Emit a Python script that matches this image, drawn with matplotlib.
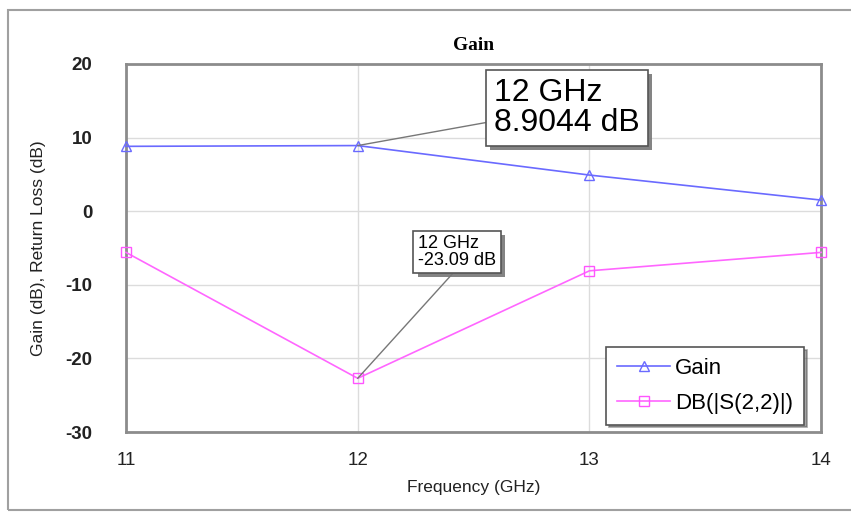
import numpy as np
import matplotlib
matplotlib.use('Agg')
import matplotlib.pyplot as plt
import matplotlib.patheffects as pe
from matplotlib.patches import Rectangle

plt.rcParams['font.family'] = ['Liberation Sans', 'DejaVu Sans']
plt.rcParams['axes.unicode_minus'] = False

# data
freq = [11, 12, 13, 14]
gain = [8.8, 8.9044, 4.9, 1.5]
s22 = [-5.6, -22.7, -8.1, -5.6]
xticks = [11, 12, 13, 14]
yticks = [-30, -20, -10, 0, 10, 20]

fig = plt.figure(figsize=(8.51, 5.15), dpi=100)
ax = fig.add_axes([0.148, 0.161, 0.817, 0.715])

# outer frame round the whole graph
fig.patches.append(Rectangle((8/851, 5/515), 850/851, 500/515, transform=fig.transFigure,
                             fill=False, edgecolor='#a0a0a0', lw=1.5))

ax.plot(freq, gain, color='#6a6aff', lw=1.2, marker='^', ms=7, mfc='none',
        mec='#6a6aff', label='Gain', clip_on=False, zorder=3)
ax.plot(freq, s22, color='#ff66ff', lw=1.2, marker='s', ms=7, mfc='none',
        mec='#ff55ff', label='DB(|S(2,2)|)', clip_on=False, zorder=3)

ax.set_xlim(11, 14)
ax.set_ylim(-30, 20)
ax.set_xticks(xticks)
ax.set_yticks(yticks)
ax.grid(True, color='#dcdcdc', lw=1)
ax.set_axisbelow(True)
ax.tick_params(length=0, labelsize=13.5, labelcolor='#222222')
ax.tick_params(axis='y', pad=24)
ax.tick_params(axis='x', pad=14)
for lab in ax.get_yticklabels():
    lab.set_fontweight('bold')
for s in ax.spines.values():
    s.set_color('#8c8c8c')
    s.set_linewidth(2)

ax.set_title('Gain', fontsize=14, fontweight='bold', family='Liberation Serif', pad=10)
ax.set_xlabel('Frequency (GHz)', fontsize=12.5, labelpad=8, color='#222222')
ax.set_ylabel('Gain (dB), Return Loss (dB)', fontsize=12.5, labelpad=14, color='#222222')

shadow = [pe.withSimplePatchShadow(offset=(3, -3), shadow_rgbFace='#777777', alpha=0.9)]

a1 = ax.annotate('12 GHz\n8.9044 dB', xy=(freq[1], gain[1]), xytext=(494, 407),
                 textcoords='figure pixels', fontsize=23, va='center', ha='left',
                 linespacing=1.0,
                 bbox=dict(boxstyle='square,pad=0.25', fc='white', ec='#555555', lw=1.2),
                 arrowprops=dict(arrowstyle='-', color='#777777', lw=1,
                                 shrinkA=0, shrinkB=0))
a1.get_bbox_patch().set_path_effects(shadow)

a2 = ax.annotate('12 GHz\n-23.09 dB', xy=(freq[1], s22[1]), xytext=(418, 263),
                 textcoords='figure pixels', fontsize=13, va='center', ha='left',
                 linespacing=0.95,
                 bbox=dict(boxstyle='square,pad=0.25', fc='white', ec='#555555', lw=1.2),
                 arrowprops=dict(arrowstyle='-', color='#777777', lw=1,
                                 shrinkA=0, shrinkB=0, relpos=(0.5, 0)))
a2.get_bbox_patch().set_path_effects(shadow)

leg = ax.legend(loc='lower right', bbox_to_anchor=(0.975, 0.02), fontsize=16,
                frameon=True, fancybox=False, shadow=True, handlelength=2.4,
                borderpad=0.5, labelspacing=0.6, handletextpad=0.2, borderaxespad=0)
leg.get_frame().set_edgecolor('#555555')
leg.get_frame().set_linewidth(1.2)

fig.savefig('out.png', dpi=100)
